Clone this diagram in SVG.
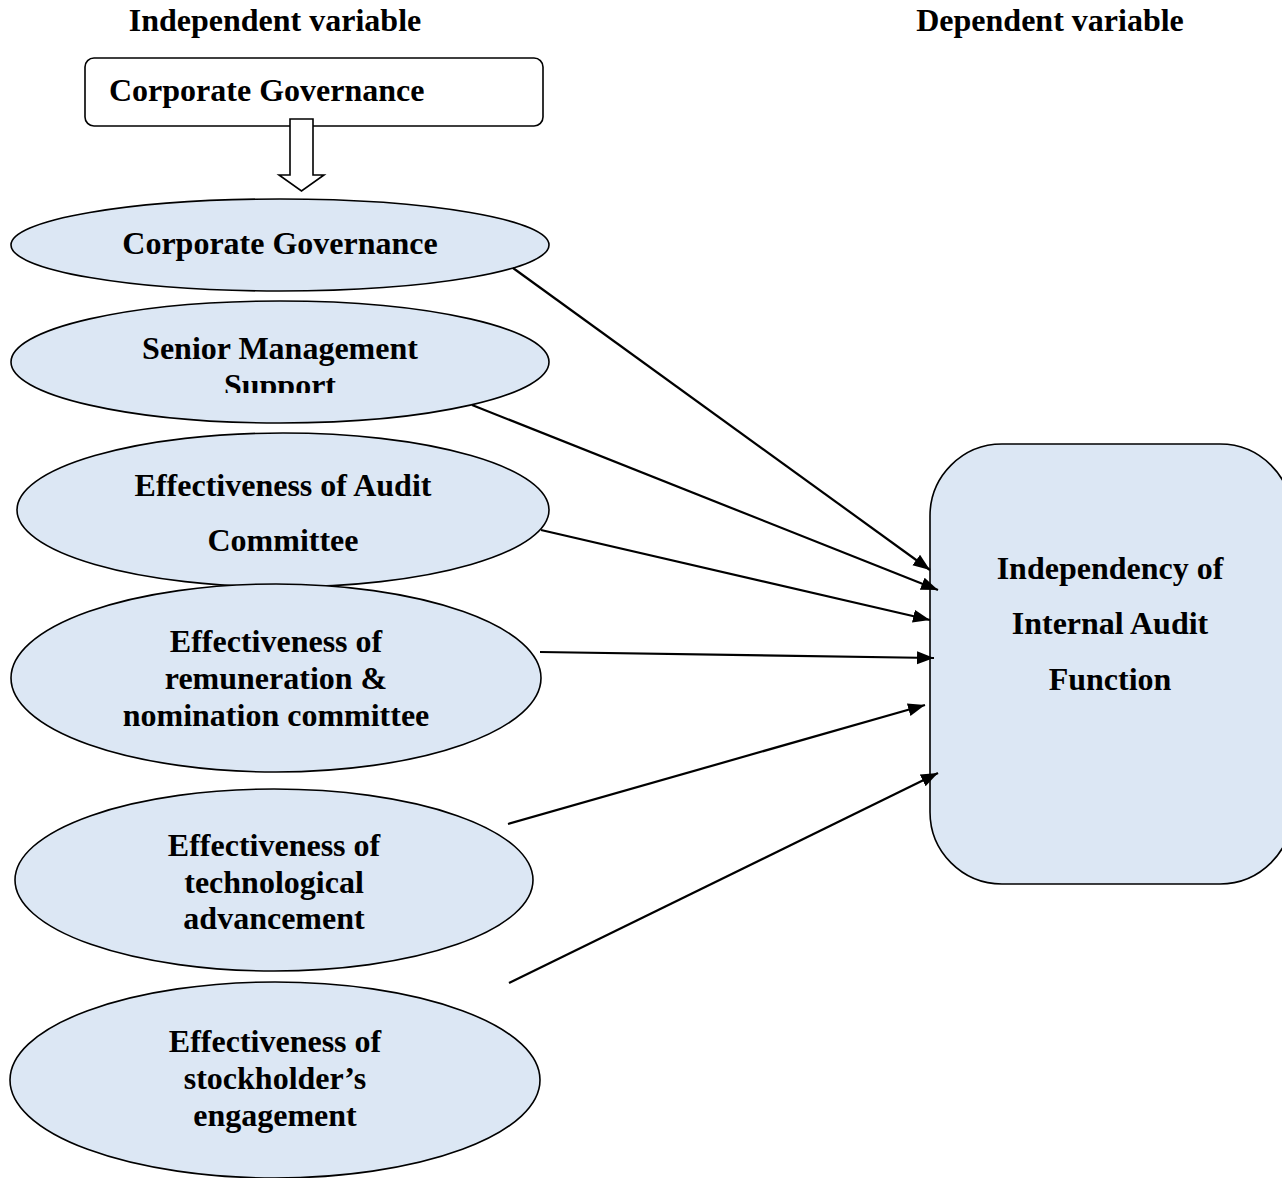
<svg xmlns="http://www.w3.org/2000/svg" width="1282" height="1178" viewBox="0 0 1282 1178">
<style>
text{font-family:"Liberation Serif","Times New Roman",serif;font-weight:bold;font-size:32px;fill:#000}
.t{text-anchor:middle}
.e{fill:#dce7f4;stroke:#000;stroke-width:1.6}
.c{stroke:#000;stroke-width:2.2;fill:none;marker-end:url(#ah)}
</style>
<defs>
<marker id="ah" markerUnits="userSpaceOnUse" markerWidth="18" markerHeight="14" refX="17" refY="6.5" orient="auto">
<path d="M0,0 L17,6.5 L0,13 z" fill="#000"/>
</marker>
<clipPath id="clipSupport"><rect x="0" y="300" width="600" height="93"/></clipPath>
</defs>
<rect width="1282" height="1178" fill="#fff"/>
<text x="275" y="31" class="t">Independent variable</text>
<text x="1050" y="31" class="t">Dependent variable</text>
<g id="cg-box">
<rect x="85" y="58" width="458" height="68" rx="9" fill="#fff" stroke="#000" stroke-width="1.6"/>
<text x="109" y="101">Corporate Governance</text>
</g>
<g id="block-arrow">
<path d="M290,119 L313,119 L313,175 L324,175 L301.5,191 L279,175 L290,175 Z" fill="#fff" stroke="#000" stroke-width="1.6"/>
</g>
<g id="n1">
<ellipse class="e" cx="280" cy="245" rx="269" ry="46"/>
<text x="280" y="254" class="t">Corporate Governance</text>
</g>
<g id="n2">
<ellipse class="e" cx="280" cy="362" rx="269" ry="61"/>
<g clip-path="url(#clipSupport)">
<text x="280" y="359" class="t">Senior Management</text>
<text x="280" y="396" class="t">Support</text>
</g>
</g>
<g id="n3">
<ellipse class="e" cx="283" cy="510" rx="266" ry="77"/>
<text x="283" y="496" class="t">Effectiveness of Audit</text>
<text x="283" y="551" class="t">Committee</text>
</g>
<g id="n4">
<ellipse class="e" cx="276" cy="678" rx="265" ry="94"/>
<text x="276" y="652" class="t">Effectiveness of</text>
<text x="276" y="689" class="t">remuneration &amp;</text>
<text x="276" y="726" class="t">nomination committee</text>
</g>
<g id="n5">
<ellipse class="e" cx="274" cy="880" rx="259" ry="91"/>
<text x="274" y="856" class="t">Effectiveness of</text>
<text x="274" y="893" class="t">technological</text>
<text x="274" y="929" class="t">advancement</text>
</g>
<g id="n6">
<ellipse class="e" cx="275" cy="1080" rx="265" ry="98"/>
<text x="275" y="1052" class="t">Effectiveness of</text>
<text x="275" y="1089" class="t">stockholder’s</text>
<text x="275" y="1126" class="t">engagement</text>
</g>
<g id="target">
<rect class="e" x="930" y="444" width="362" height="440" rx="72"/>
<text x="1110" y="579" class="t">Independency of</text>
<text x="1110" y="634" class="t">Internal Audit</text>
<text x="1110" y="690" class="t">Function</text>
</g>
<g id="connectors">
<line class="c" x1="513" y1="268" x2="930" y2="570"/>
<line class="c" x1="472" y1="405" x2="938" y2="590"/>
<line class="c" x1="541" y1="530" x2="930" y2="620"/>
<line class="c" x1="540" y1="652" x2="934" y2="658"/>
<line class="c" x1="508" y1="824" x2="925" y2="705"/>
<line class="c" x1="509" y1="983" x2="938" y2="773"/>
</g>
</svg>
